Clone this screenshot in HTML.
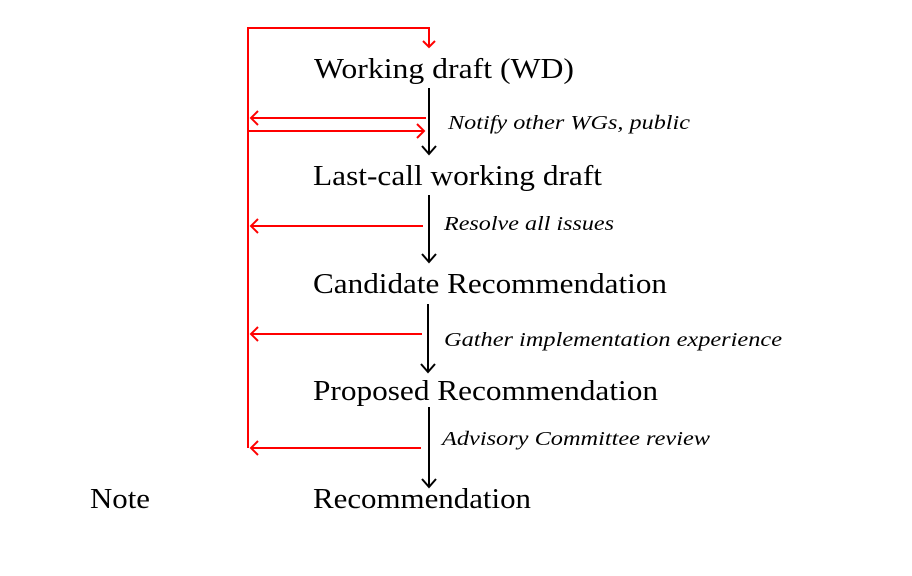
<!DOCTYPE html>
<html><head><meta charset="utf-8"><style>
html,body{margin:0;padding:0;background:#fff;}
svg{display:block;}
text{font-family:"Liberation Serif",serif;fill:#000;}
.b{font-size:28px;}
.i{font-size:20px;font-style:italic;}
</style></head><body>
<svg width="912" height="576" viewBox="0 0 912 576" xmlns="http://www.w3.org/2000/svg">
<g fill="none" stroke-width="2">
<!-- red loop -->
<g stroke="#ff0000">
<polyline points="248,448 248,28 429,28 429,47"/>
<polyline points="423,41 429,47 435,41"/>
<line x1="426" y1="118" x2="251" y2="118"/>
<polyline points="258,111 251,118 258,125"/>
<line x1="248" y1="131" x2="424" y2="131"/>
<polyline points="417,124 424,131 417,138"/>
<line x1="423" y1="226" x2="251" y2="226"/>
<polyline points="258,219 251,226 258,233"/>
<line x1="422" y1="334" x2="251" y2="334"/>
<polyline points="258,327 251,334 258,341"/>
<line x1="421" y1="448" x2="251" y2="448"/>
<polyline points="258,441 251,448 258,455"/>
</g>
<!-- black arrows -->
<g stroke="#000">
<line x1="429" y1="88" x2="429" y2="154"/>
<polyline points="422,146 429,154 436,146"/>
<line x1="429" y1="195" x2="429" y2="262"/>
<polyline points="422,254 429,262 436,254"/>
<line x1="428" y1="304" x2="428" y2="372"/>
<polyline points="421,364 428,372 435,364"/>
<line x1="429" y1="407" x2="429" y2="487"/>
<polyline points="422,479 429,487 436,479"/>
</g>
</g>
<text class="b" x="314" y="78" textLength="260" lengthAdjust="spacingAndGlyphs">Working draft (WD)</text>
<text class="b" x="313" y="185" textLength="289" lengthAdjust="spacingAndGlyphs">Last-call working draft</text>
<text class="b" x="313" y="293" textLength="354" lengthAdjust="spacingAndGlyphs">Candidate Recommendation</text>
<text class="b" x="313" y="400" textLength="345" lengthAdjust="spacingAndGlyphs">Proposed Recommendation</text>
<text class="b" x="313" y="508" textLength="218" lengthAdjust="spacingAndGlyphs">Recommendation</text>
<text class="b" x="90" y="508" textLength="60" lengthAdjust="spacingAndGlyphs">Note</text>
<text class="i" x="448" y="129" textLength="242" lengthAdjust="spacingAndGlyphs">Notify other WGs, public</text>
<text class="i" x="444" y="230" textLength="170" lengthAdjust="spacingAndGlyphs">Resolve all issues</text>
<text class="i" x="444" y="346" textLength="338" lengthAdjust="spacingAndGlyphs">Gather implementation experience</text>
<text class="i" x="442" y="445" textLength="268" lengthAdjust="spacingAndGlyphs">Advisory Committee review</text>
</svg>
</body></html>
